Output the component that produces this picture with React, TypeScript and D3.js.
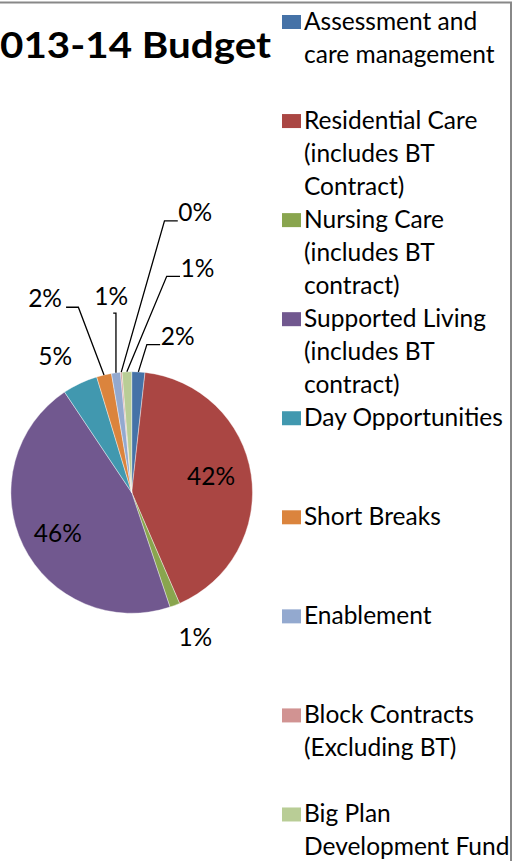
import React from "react";
import * as d3 from "d3";

const categories = [
  "Assessment and care management",
  "Residential Care (includes BT Contract)",
  "Nursing Care (includes BT contract)",
  "Supported Living (includes BT contract)",
  "Day Opportunities",
  "Short Breaks",
  "Enablement",
  "Block Contracts (Excluding BT)",
  "Big Plan Development Fund",
];

const legendLines = [
  ["Assessment and", "care management"],
  ["Residential Care", "(includes BT", "Contract)"],
  ["Nursing Care", "(includes BT", "contract)"],
  ["Supported Living", "(includes BT", "contract)"],
  ["Day Opportunities"],
  ["Short Breaks"],
  ["Enablement"],
  ["Block Contracts", "(Excluding BT)"],
  ["Big Plan", "Development Fund"],
];

const shares = [1.76, 41.75, 1.36, 45.75, 4.7, 2.0, 1.2, 0.2, 1.28];

const colors = [
  "#4572A7",
  "#AA4643",
  "#89A54E",
  "#71588F",
  "#4198AF",
  "#DB843D",
  "#93A9CF",
  "#D19392",
  "#B9CD96",
];

const titleText = "013-14 Budget";

// label layout: radius factor and angle offset (degrees) from slice mid-angle
const labelLayout = [
  { rf: 1.342, da: 13.3, leader: true },
  { rf: 0.67, da: -2.5, leader: false },
  { rf: 1.315, da: -2.7, leader: false },
  { rf: 0.7, da: -3.1, leader: false },
  { rf: 1.29, da: -4.1, leader: false },
  { rf: 1.753, da: -10.9, leader: true },
  { rf: 1.627, da: 1.5, leader: true },
  { rf: 2.37, da: 17.8, leader: true },
  { rf: 1.93, da: 18.7, leader: true },
];

const W = 514;
const H = 861;
const FONT = "Lato, 'Open Sans', sans-serif";

export default function App() {
  const cx = 131.7;
  const cy = 492.5;
  const R = 120.8;
  const total = d3.sum(shares);
  const pct = d3.format(".0%");

  const pie = d3
    .pie<number>()
    .sort(null)
    .value((d) => d);
  const arcs = pie(shares);
  const arc = d3.arc<d3.PieArcDatum<number>>().innerRadius(0).outerRadius(R);

  const polar = (ang: number, r: number): [number, number] => [
    cx + r * Math.sin(ang),
    cy - r * Math.cos(ang),
  ];

  const fs = 24.5;
  const halfW = 15.5;

  const labels = arcs.map((a, i) => {
    const mid = (a.startAngle + a.endAngle) / 2;
    const L = labelLayout[i];
    const ang = mid + (L.da * Math.PI) / 180;
    const [lx, lyMid] = polar(ang, R * L.rf);
    const baseline = lyMid + 8;
    let leader: string | null = null;
    if (L.leader) {
      const [ex, ey] = polar(mid, R);
      let pts: [number, number][];
      if (Math.abs(lx - ex) < 15) {
        const y = baseline + 8;
        pts = [
          [ex, ey],
          [ex, y],
          [lx + 2, y],
        ];
      } else if (lx > ex) {
        const endX = lx - halfW - 2;
        const y = baseline - 0.5;
        pts = [
          [ex, ey],
          [endX - 13.3, y],
          [endX, y],
        ];
      } else {
        const endX = lx + halfW + 5.5;
        const y = baseline;
        pts = [
          [ex, ey],
          [endX + 12.3, y],
          [endX, y],
        ];
      }
      leader = d3.line()(pts);
    }
    return {
      text: pct(shares[i] / total),
      x: lx,
      y: baseline,
      leader,
    };
  });

  const lineH = 33.02;
  const legendTop = 29.5;
  const legendX = 282;

  return (
    <svg
      width={W}
      height={H}
      style={{ position: "absolute", left: 0, top: 0, background: "#fff" }}
      fontFamily={FONT}
    >
      <rect x={0} y={0} width={W} height={H} fill="#fff" />
      <g>
        {arcs.map((a, i) => (
          <path
            key={categories[i]}
            d={arc(a) || ""}
            fill={colors[i]}
            stroke="#ffffff"
            strokeWidth={0.4}
            transform={`translate(${cx},${cy})`}
          />
        ))}
      </g>
      <g>
        {labels.map((l, i) =>
          l.leader ? (
            <path key={"ld" + i} d={l.leader} fill="none" stroke="#000" strokeWidth={1.3} />
          ) : null
        )}
        {labels.map((l, i) => (
          <text
            key={"lb" + i}
            x={l.x}
            y={l.y}
            textAnchor="middle"
            fontSize={fs}
            fill="#000"
          >
            {l.text}
          </text>
        ))}
      </g>
      <text
        x={0}
        y={58.3}
        fontSize={37}
        fontWeight="bold"
        fill="#000"
        textLength={271}
        lengthAdjust="spacingAndGlyphs"
      >
        {titleText}
      </text>
      <g>
        {legendLines.map((lines, i) => {
          const base = legendTop + i * 3 * lineH;
          return (
            <g key={"lg" + i}>
              <rect x={legendX} y={base - 14.5} width={19} height={14} fill={colors[i]} />
              {lines.map((t, j) => (
                <text key={j} x={304} y={base + j * lineH} fontSize={fs} fill="#000">
                  {t}
                </text>
              ))}
            </g>
          );
        })}
      </g>
      <path d={`M0,2.5H511V${H}`} fill="none" stroke="#888" strokeWidth={2} />
    </svg>
  );
}
